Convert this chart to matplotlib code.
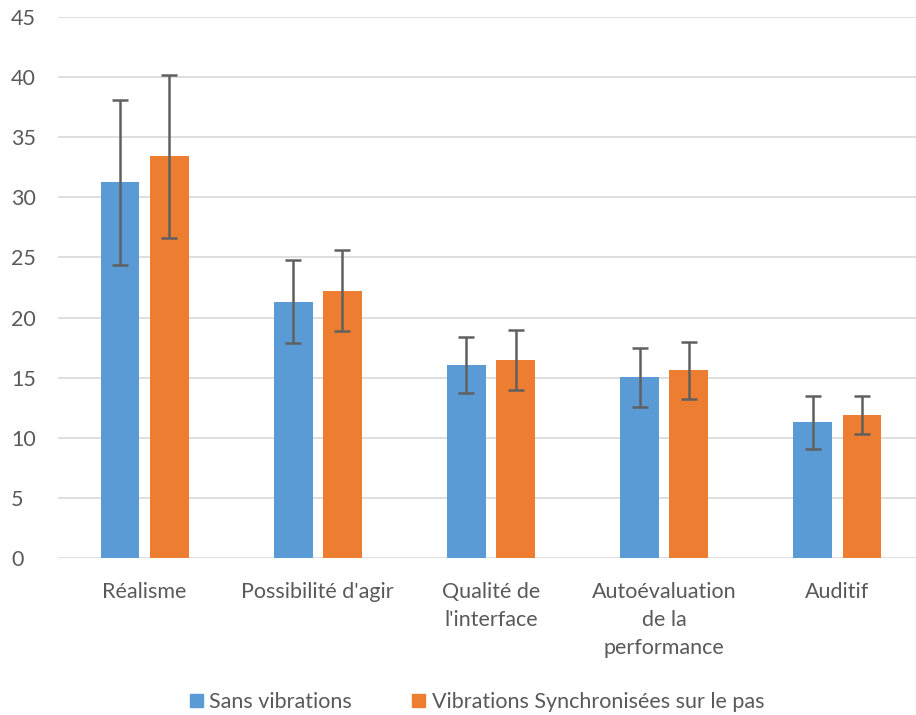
import numpy as np
import matplotlib.pyplot as plt
from matplotlib.patches import Patch

categories = ["Réalisme", "Possibilité d'agir", "Qualité de\nl'interface",
              "Autoévaluation\nde la\nperformance", "Auditif"]
sans_vib = [31.25, 21.3, 16.05, 15.05, 11.3]
sans_err = [6.85, 3.45, 2.35, 2.45, 2.2]
vib_sync = [33.4, 22.25, 16.45, 15.6, 11.9]
vib_err = [6.75, 3.4, 2.5, 2.35, 1.6]
series_names = ["Sans vibrations", "Vibrations Synchronisées sur le pas"]

blue = "#5B9BD5"
orange = "#ED7D31"
txt = "#595959"
fs = 15.5

plt.rcParams['font.family'] = ['Lato', 'DejaVu Sans']

fig = plt.figure(figsize=(9.16, 7.15), dpi=100)
ax = fig.add_axes([58 / 916, 1 - 558 / 715, 866 / 916, 541 / 715])

x = np.arange(len(categories))
w = 0.225
off = 0.142
ekw = dict(ecolor="#606060", elinewidth=1.8, capsize=6, capthick=1.8)
ax.bar(x - off, sans_vib, w, color=blue, yerr=sans_err, error_kw=ekw, zorder=3)
ax.bar(x + off, vib_sync, w, color=orange, yerr=vib_err, error_kw=ekw, zorder=3)

ax.set_xlim(-0.5, len(categories) - 0.5)
ax.set_ylim(0, 45)
ax.set_yticks(range(0, 46, 5))
ax.yaxis.grid(True, color="#D9D9D9", linewidth=1.2, zorder=0)
ax.set_axisbelow(True)
for s in ax.spines.values():
    s.set_visible(False)
ax.tick_params(axis='both', length=0, colors=txt, labelsize=fs)
ax.tick_params(axis='x', pad=17)
ax.tick_params(axis='y', pad=0)
ax.set_xticks(x)
ax.set_xticklabels(categories, linespacing=1.5)
for lbl in ax.get_yticklabels():
    lbl.set_horizontalalignment('left')
    lbl.set_transform(ax.get_yaxis_transform())
    lbl.set_position((-47 / 866, 0))

handles = [Patch(color=blue), Patch(color=orange)]
fig.legend(handles, series_names, loc='center', bbox_to_anchor=(477 / 916, 1 - 702 / 715),
           ncol=2, frameon=False, fontsize=fs, labelcolor=txt,
           handlelength=0.6, handleheight=0.6, handletextpad=0.3, columnspacing=2.8)

fig.savefig("out.png", dpi=100)
